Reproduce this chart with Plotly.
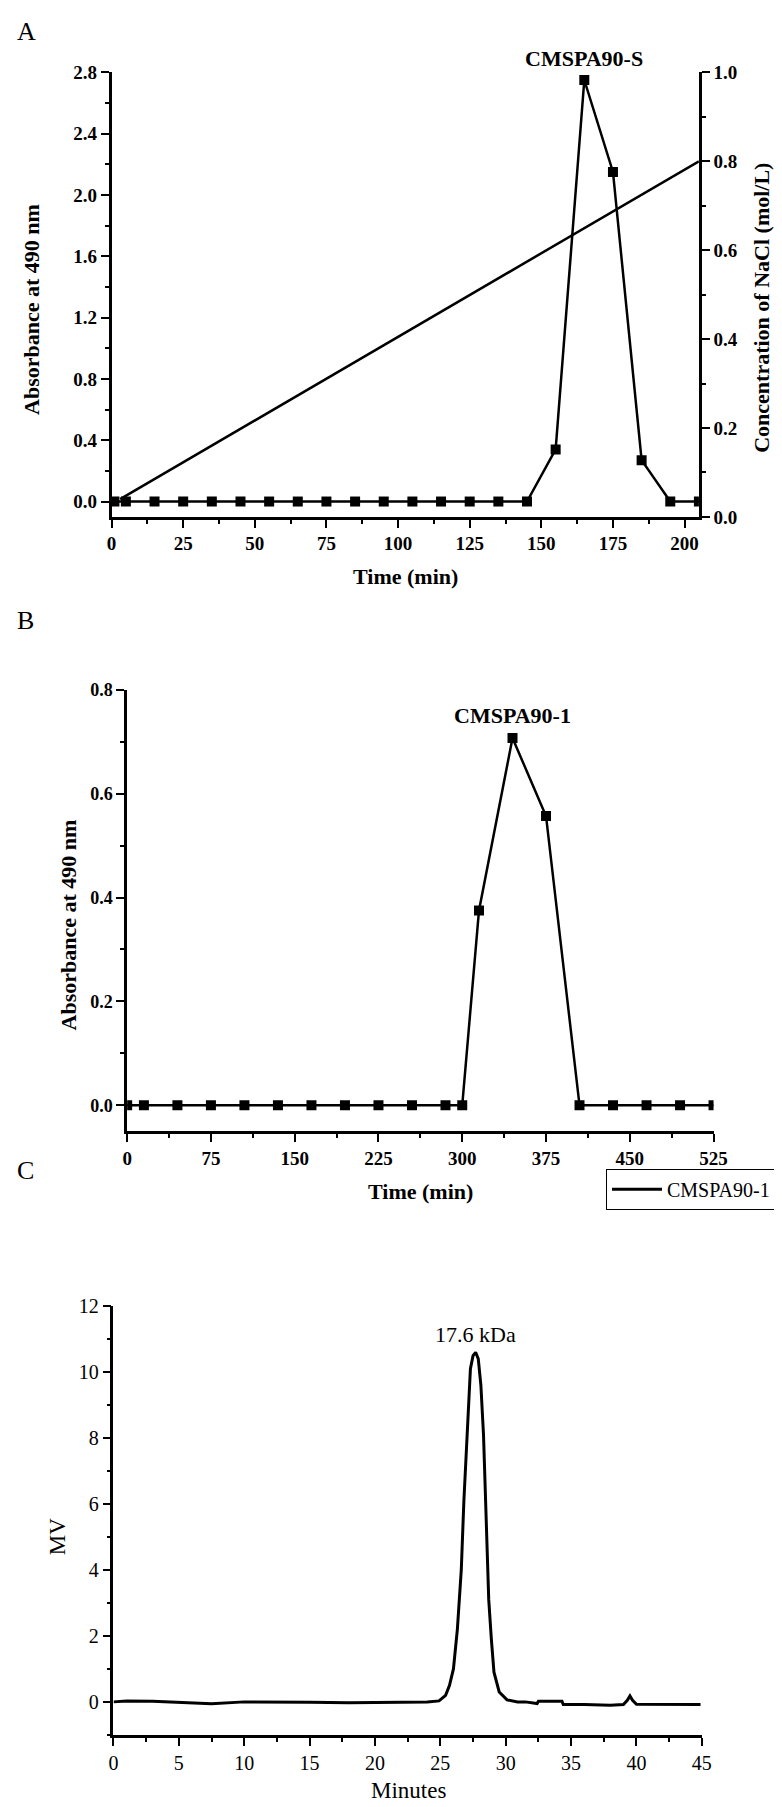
import plotly.graph_objects as go

W, H = 782, 1807
SERIF = "Liberation Serif"

# panel A: DEAE elution
time_a = [1, 5, 15, 25, 35, 45, 55, 65, 75, 85, 95, 105, 115, 125, 135, 145,
          155, 165, 175, 185, 195, 205]
abs_a = [0.0, 0.0, 0.0, 0.0, 0.0, 0.0, 0.0, 0.0, 0.0, 0.0, 0.0, 0.0, 0.0, 0.0,
         0.0, 0.0, 0.34, 2.75, 2.15, 0.27, 0.0, 0.0]
nacl_time = [3, 205]
nacl_conc = [0.04, 0.8]

# panel B: gel filtration
time_b = [0, 15, 45, 75, 105, 135, 165, 195, 225, 255, 285, 300, 315, 345, 375,
          405, 435, 465, 495, 525]
abs_b = [0.0, 0.0, 0.0, 0.0, 0.0, 0.0, 0.0, 0.0, 0.0, 0.0, 0.0, 0.0, 0.375,
         0.707, 0.557, 0.0, 0.0, 0.0, 0.0, 0.0]

# panel C: HPGPC trace
time_c = [0, 1, 3, 5, 7.5, 10, 12, 15, 18, 20, 22, 24, 24.9, 25.4, 25.7, 26.0,
          26.3, 26.6, 26.8, 27.1, 27.3, 27.5, 27.7, 27.9, 28.1, 28.3, 28.5, 28.7,
          28.9, 29.1, 29.5, 30.1, 30.9, 31.5, 32.4, 32.5, 34.3, 34.4, 36, 38,
          39.0, 39.3, 39.5, 39.7, 40.0, 42, 44, 44.9]
mv_c = [0.0, 0.03, 0.02, -0.02, -0.06, 0.0, 0.0, -0.01, -0.03, -0.02, -0.02,
        0.0, 0.03, 0.2, 0.5, 1.0, 2.2, 4.0, 6.1, 8.6, 10.1, 10.5, 10.6, 10.4,
        9.6, 8.1, 5.6, 3.1, 1.9, 0.9, 0.3, 0.06, 0.0, 0.0, -0.05, 0.02, 0.02,
        -0.08, -0.08, -0.1, -0.08, 0.05, 0.18, 0.05, -0.07, -0.08, -0.09, -0.08]


def px_x(a, b):
    return [a / W, b / W]


def px_y(top, bottom):
    return [1 - bottom / H, 1 - top / H]


def axis(size, bold, dtick, minor, **kw):
    d = dict(
        showline=True, linewidth=2.5, linecolor="black", mirror=False,
        ticks="outside", ticklen=8, tickwidth=2, tickcolor="black",
        showgrid=False, zeroline=False, dtick=dtick, tick0=0,
        tickfont=dict(family=SERIF, size=size, color="black",
                      weight="bold" if bold else "normal"),
        minor=dict(dtick=minor, tick0=0, ticks="outside", ticklen=4,
                   tickwidth=2, tickcolor="black", showgrid=False),
    )
    d.update(kw)
    return d


line = dict(color="black", width=2.5)
marker = dict(symbol="square", size=10, color="black")

fig = go.Figure()
fig.add_trace(go.Scatter(x=nacl_time, y=nacl_conc, mode="lines", line=line,
                         xaxis="x", yaxis="y2", showlegend=False))
fig.add_trace(go.Scatter(x=time_a, y=abs_a, mode="lines+markers", line=line,
                         marker=marker, xaxis="x", yaxis="y", showlegend=False))
fig.add_trace(go.Scatter(x=time_b, y=abs_b, mode="lines+markers", line=line,
                         marker=marker, xaxis="x2", yaxis="y3", showlegend=False))
fig.add_trace(go.Scatter(x=time_c, y=mv_c, mode="lines", name="CMSPA90-1",
                         line=dict(color="black", width=3), xaxis="x3", yaxis="y4"))

fig.update_layout(
    width=W, height=H, autosize=False,
    margin=dict(l=0, r=0, t=0, b=0),
    paper_bgcolor="white", plot_bgcolor="white",
    font=dict(family=SERIF, color="black"),
    xaxis=axis(19, True, 25, 12.5, domain=px_x(101, 703), range=[0, 205], anchor="y"),
    yaxis=axis(19, True, 0.4, 0.2, domain=px_y(54, 504), range=[-0.1, 2.8],
               anchor="x", tickformat=".1f"),
    yaxis2=axis(19, True, 0.2, 0.1, range=[0, 1], overlaying="y", side="right",
                anchor="x", tickformat=".1f"),
    xaxis2=axis(19, True, 75, 37.5, domain=px_x(117, 718), range=[0, 525], anchor="y3"),
    yaxis3=axis(18, True, 0.2, 0.1, domain=px_y(679, 1126), range=[-0.05, 0.8],
                anchor="x2", tickformat=".1f"),
    xaxis3=axis(20, False, 5, 2.5, domain=px_x(103, 706), range=[0, 45], anchor="y4"),
    yaxis4=axis(20, False, 2, 1, domain=px_y(1303, 1737), range=[-1, 12], anchor="x3"),
    legend=dict(x=1.0, xanchor="right", y=1 - 1164 / H, yanchor="top",
                bordercolor="black", borderwidth=1, bgcolor="white",
                itemwidth=50, tracegroupgap=0,
                font=dict(family=SERIF, size=20, color="black")),
)


def note(text, x, y, size, bold=False, angle=0, xref="paper", xanchor="center"):
    fig.add_annotation(
        text=text, x=x if xref != "paper" else x / W, y=1 - y / H,
        xref=xref, yref="paper", xanchor=xanchor, yanchor="middle",
        textangle=angle, showarrow=False,
        font=dict(family=SERIF, size=size, color="black",
                  weight="bold" if bold else "normal"),
    )


# panel letters
note("A", 2, 13, 26, xanchor="left")
note("B", 2, 609, 26, xanchor="left")
note("C", 2, 1166, 26, xanchor="left")

# panel A texts
note("CMSPA90-S", 165, 40, 22, bold=True, xref="x")
note("Absorbance at 490 nm", 19, 294, 22, bold=True, angle=-90)
note("Concentration of NaCl (mol/L)", 767, 292, 22, bold=True, angle=-90)
note("Time (min)", 402, 564, 22, bold=True)

# panel B texts
note("CMSPA90-1", 345, 705, 22, bold=True, xref="x2")
note("Absorbance at 490 nm", 57, 917, 22, bold=True, angle=-90)
note("Time (min)", 418, 1187, 22, bold=True)

# panel C texts
note("17.6 kDa", 27.7, 1332, 22, xref="x3")
note("MV", 45, 1536, 23, angle=-90)
note("Minutes", 405, 1793, 23)

fig.write_html("out.html")
